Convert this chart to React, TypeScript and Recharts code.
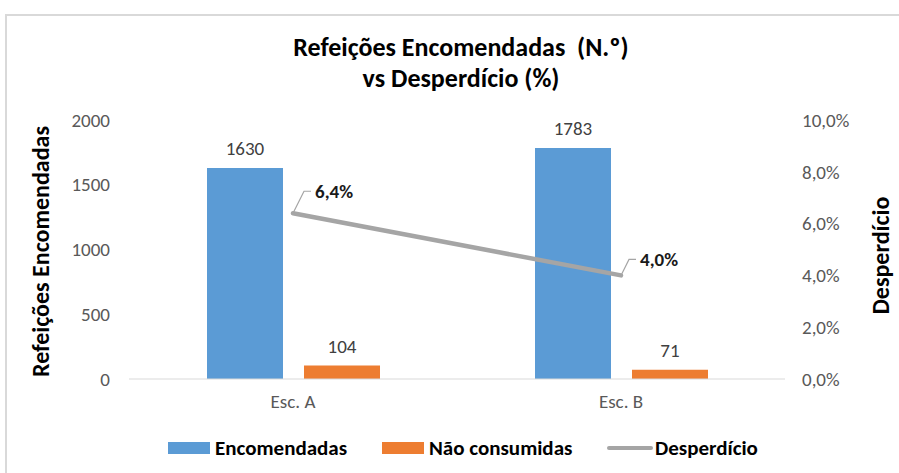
import { ComposedChart, Bar, Line, XAxis, YAxis, LabelList, Label } from "recharts";

// values
const schools = ["Esc. A", "Esc. B"];
const ordered = [1630, 1783];
const notConsumed = [104, 71];
const wastePct = [6.4, 4.0];
const leftTicks = [0, 500, 1000, 1500, 2000];
const rightTicks = [0, 2, 4, 6, 8, 10];

const BLUE = "#5B9BD5";
const ORANGE = "#ED7D31";
const GRAY = "#A5A5A5";
const FONT = "Carlito, Calibri, Lato, sans-serif";

const data = schools.map((name, i) => ({
  name,
  encomendadas: ordered[i],
  naoConsumidas: notConsumed[i],
  desperdicio: wastePct[i],
}));

const pct = (v: number) => v.toFixed(1).replace(".", ",") + "%";

// leader line bends for the % labels (Excel-style callouts)
const leaderOffsets = [
  { dx: 11, dy: -22 },
  { dx: 8, dy: -16 },
];

function WasteLabel(props: any) {
  const { x, y, value, index } = props;
  const o = leaderOffsets[index] ?? leaderOffsets[0];
  const cx = x + o.dx;
  const cy = y + o.dy;
  return (
    <g>
      <path
        d={`M${x},${y} L${cx},${cy} L${cx + 7},${cy}`}
        stroke={GRAY}
        strokeWidth={1.2}
        fill="none"
      />
      <text
        x={cx + 11}
        y={cy + 2}
        dominantBaseline="middle"
        fontSize={19}
        fontWeight="bold"
        fill="#1a1a1a"
        fontFamily={FONT}
      >
        {pct(value)}
      </text>
    </g>
  );
}

function LeftTitle(props: any) {
  const { viewBox } = props;
  const cy = viewBox.y + viewBox.height / 2 + 2;
  return (
    <text
      x={43}
      y={cy}
      transform={`rotate(-90, 43, ${cy})`}
      textAnchor="middle"
      dominantBaseline="middle"
      fontSize={24}
      fontWeight="bold"
      fill="#000"
      fontFamily={FONT}
    >
      Refeições Encomendadas
    </text>
  );
}

function RightTitle(props: any) {
  const { viewBox } = props;
  const cy = viewBox.y + viewBox.height / 2 + 6;
  return (
    <text
      x={883}
      y={cy}
      transform={`rotate(-90, 883, ${cy})`}
      textAnchor="middle"
      dominantBaseline="middle"
      fontSize={24}
      fontWeight="bold"
      fill="#000"
      fontFamily={FONT}
    >
      Desperdício
    </text>
  );
}

const legendItems = [
  { label: "Encomendadas", color: BLUE, kind: "box", left: 168 },
  { label: "Não consumidas", color: ORANGE, kind: "box", left: 382 },
  { label: "Desperdício", color: GRAY, kind: "line", left: 607 },
];

export default function App() {
  const tick = { fill: "#595959", fontSize: 19, fontFamily: FONT };
  return (
    <div
      style={{
        position: "absolute",
        left: 0,
        top: 0,
        width: 899,
        height: 473,
        overflow: "hidden",
        background: "#fff",
        fontFamily: FONT,
      }}
    >
      <div
        style={{
          position: "absolute",
          left: 5,
          top: 14,
          width: 900,
          height: 470,
          border: "2px solid #D9D9D9",
          boxSizing: "border-box",
        }}
      />
      <div
        style={{
          position: "absolute",
          left: 211,
          top: 32,
          width: 500,
          textAlign: "center",
          fontSize: 26,
          fontWeight: "bold",
          lineHeight: "31px",
          color: "#000",
          whiteSpace: "pre",
        }}
      >
        {"Refeições Encomendadas  (N.º)\nvs Desperdício (%)"}
      </div>
      <div style={{ position: "absolute", left: 0, top: 0 }}>
        <ComposedChart
          width={899}
          height={473}
          data={data}
          margin={{ top: 120, right: 0, bottom: 64, left: 0 }}
          barGap={21}
        >
          <XAxis
            dataKey="name"
            axisLine={{ stroke: "#D9D9D9" }}
            tickLine={false}
            tickSize={0}
            tickMargin={16}
            height={30}
            tick={tick}
          />
          <YAxis
            yAxisId="left"
            domain={[0, 2000]}
            ticks={leftTicks}
            axisLine={false}
            tickLine={false}
            tickSize={0}
            tickMargin={19}
            width={129}
            tick={tick}
          >
            <Label content={<LeftTitle />} />
          </YAxis>
          <YAxis
            yAxisId="right"
            orientation="right"
            domain={[0, 10]}
            ticks={rightTicks}
            tickFormatter={pct}
            axisLine={false}
            tickLine={false}
            tickSize={0}
            tickMargin={17}
            width={114}
            tick={{ ...tick, textAnchor: "start" }}
          >
            <Label content={<RightTitle />} />
          </YAxis>
          <Bar
            yAxisId="left"
            dataKey="encomendadas"
            fill={BLUE}
            barSize={76}
            isAnimationActive={false}
          >
            <LabelList
              dataKey="encomendadas"
              position="top"
              offset={13}
              fill="#404040"
              fontSize={19}
              fontFamily={FONT}
            />
          </Bar>
          <Bar
            yAxisId="left"
            dataKey="naoConsumidas"
            fill={ORANGE}
            barSize={76}
            isAnimationActive={false}
          >
            <LabelList
              dataKey="naoConsumidas"
              position="top"
              offset={13}
              fill="#404040"
              fontSize={19}
              fontFamily={FONT}
            />
          </Bar>
          <Line
            yAxisId="right"
            dataKey="desperdicio"
            stroke={GRAY}
            strokeWidth={4.5}
            strokeLinecap="round"
            dot={false}
            activeDot={false}
            isAnimationActive={false}
          >
            <LabelList dataKey="desperdicio" content={<WasteLabel />} />
          </Line>
        </ComposedChart>
      </div>
      {legendItems.map((it) => (
        <div
          key={it.label}
          style={{
            position: "absolute",
            left: it.left,
            top: 436,
            height: 24,
            display: "flex",
            alignItems: "center",
            fontSize: 21,
            fontWeight: "bold",
            color: "#000",
            whiteSpace: "nowrap",
          }}
        >
          {it.kind === "box" ? (
            <span style={{ display: "inline-block", width: 42, height: 12, background: it.color, marginRight: 5 }} />
          ) : (
            <span
              style={{
                display: "inline-block",
                width: 46,
                height: 4.5,
                borderRadius: 3,
                background: it.color,
                marginRight: 2,
              }}
            />
          )}
          {it.label}
        </div>
      ))}
    </div>
  );
}
